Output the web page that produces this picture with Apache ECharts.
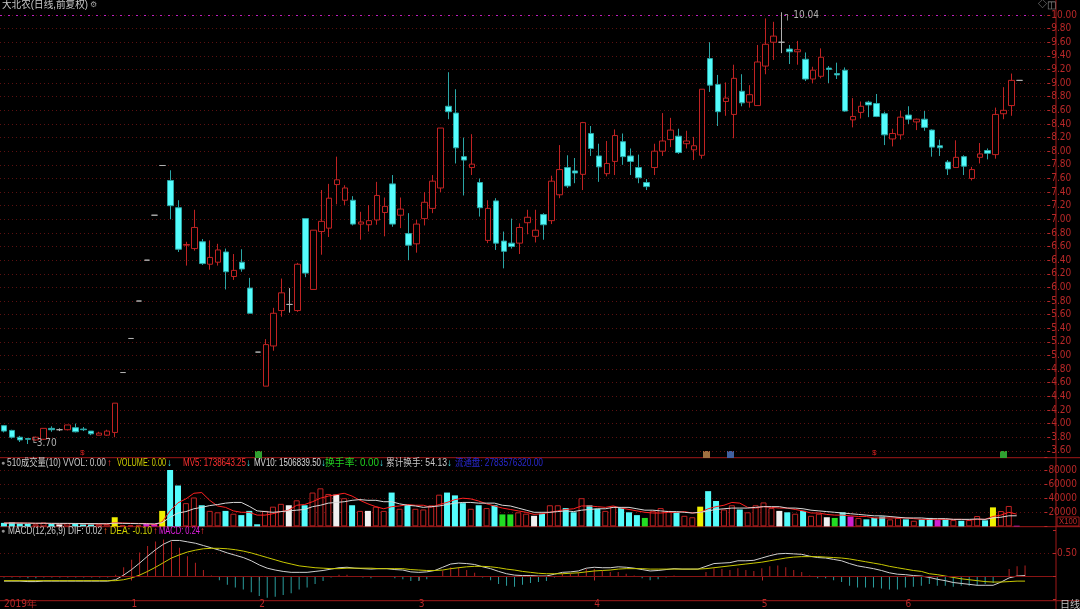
<!DOCTYPE html>
<html><head><meta charset="utf-8">
<script src="https://cdn.jsdelivr.net/npm/echarts/dist/echarts.min.js"></script>
<style>html,body{margin:0;padding:0;background:#000;}#c{width:1080px;height:609px;}</style>
</head><body><div id="c"></div>
<script>
const opens  = [3.97,3.90,3.80,3.78,3.76,3.77,3.93,3.91,3.91,3.94,3.92,3.89,3.83,3.83,3.87,4.75,5.25,5.80,6.40,7.06,7.79,7.57,7.17,6.62,6.57,6.67,6.34,6.37,6.52,6.16,6.37,5.99,5.05,4.55,5.14,5.66,5.75,5.66,7.01,5.97,6.82,6.87,7.51,7.28,7.28,6.93,6.92,6.99,7.10,7.52,7.06,6.79,6.64,7.01,7.16,7.46,8.66,8.56,7.92,7.76,7.54,6.69,7.27,6.68,6.65,6.65,6.95,6.75,7.07,6.98,7.36,7.76,7.71,7.66,8.26,7.93,7.67,7.85,8.14,7.93,7.76,7.54,7.76,8.00,8.17,8.22,8.11,8.02,7.94,9.36,8.98,8.73,8.54,8.88,8.72,8.67,9.25,9.60,9.60,9.50,9.46,9.35,9.06,9.10,9.22,9.14,9.19,8.46,8.57,8.72,8.70,8.55,8.18,8.24,8.53,8.43,8.47,8.31,8.08,7.84,7.76,7.92,7.60,7.91,8.01,7.95,8.55,8.67,9.04];
const closes = [3.89,3.80,3.76,3.77,3.80,3.93,3.91,3.91,3.98,3.88,3.91,3.85,3.86,3.89,4.30,4.75,5.25,5.80,6.40,7.06,7.79,7.20,6.56,6.63,6.88,6.35,6.44,6.55,6.23,6.25,6.27,5.62,5.05,5.16,5.62,5.92,5.75,6.34,6.21,6.84,6.97,7.31,7.58,7.46,6.93,6.96,6.98,7.35,7.19,6.93,7.15,6.62,6.93,7.25,7.56,8.34,8.58,8.05,7.87,7.81,7.17,7.16,6.65,6.53,6.60,6.88,7.03,6.84,6.92,7.56,7.73,7.49,7.68,8.42,8.04,7.77,7.82,8.23,7.92,7.85,7.61,7.48,8.00,8.15,8.31,7.98,8.15,8.08,8.91,8.97,8.58,8.78,9.07,8.71,8.83,9.31,9.57,9.69,9.60,9.46,9.49,9.06,9.19,9.38,9.20,9.12,8.59,8.51,8.66,8.68,8.51,8.24,8.26,8.50,8.47,8.47,8.35,8.06,8.05,7.74,7.91,7.78,7.73,7.96,7.97,8.54,8.60,9.04,9.04];
const lows   = [3.87,3.78,3.73,3.70,3.75,3.76,3.88,3.89,3.90,3.87,3.89,3.83,3.83,3.82,3.80,4.75,5.25,5.80,6.40,7.06,7.79,7.00,6.52,6.32,6.54,6.33,6.26,6.32,5.97,6.11,6.23,5.62,5.05,4.55,5.07,5.57,5.63,5.64,6.15,5.97,6.48,6.74,7.22,7.21,6.91,6.70,6.82,6.92,6.75,6.89,6.87,6.40,6.51,6.91,7.09,7.40,8.47,7.82,7.35,7.65,7.04,6.65,6.55,6.28,6.57,6.49,6.78,6.66,6.70,6.93,7.31,7.46,7.53,7.43,7.93,7.55,7.63,7.65,7.80,7.65,7.53,7.43,7.65,7.93,8.06,7.96,8.04,7.87,7.89,8.87,8.37,8.52,8.19,8.66,8.64,8.67,9.13,9.34,9.44,9.28,9.27,9.03,9.00,9.07,9.00,9.06,8.58,8.35,8.48,8.50,8.50,8.09,8.07,8.17,8.40,8.31,8.30,7.92,7.93,7.65,7.76,7.65,7.57,7.82,7.88,7.89,8.47,8.52,9.04];
const highs  = [3.98,3.91,3.82,3.79,3.81,3.93,3.96,3.93,3.98,4.00,3.95,3.89,3.88,3.91,4.30,4.75,5.25,5.80,6.40,7.06,7.79,7.72,7.28,6.67,7.14,6.71,6.69,6.64,6.57,6.49,6.56,6.14,5.05,5.24,5.70,6.13,5.99,6.36,7.01,6.84,7.43,7.52,7.92,7.50,7.34,7.11,7.21,7.55,7.32,7.65,7.32,7.09,6.99,7.40,7.65,8.34,9.16,8.91,8.20,8.25,7.60,7.28,7.31,6.82,7.01,6.94,7.14,7.14,7.09,7.64,8.09,7.94,7.90,8.43,8.37,8.11,8.15,8.32,8.26,8.04,7.95,7.59,8.11,8.56,8.49,8.33,8.30,8.21,8.91,9.60,9.12,9.01,9.27,9.13,8.97,9.56,9.95,9.90,10.04,9.56,9.62,9.45,9.24,9.51,9.25,9.30,9.23,8.78,8.73,8.74,8.84,8.58,8.33,8.59,8.66,8.48,8.59,8.32,8.17,7.87,8.16,7.94,7.77,8.12,8.04,8.64,8.94,9.14,9.04];
// volume in hands (x100 shares); flag per bar: u=up d=down Y=yellow W=white G=green M=magenta
const volumes = [5000,6000,4000,3500,3000,5500,3500,3000,4500,4000,3000,3000,3000,3500,13000,1500,1500,1500,3500,3500,22000,80000,58000,33000,41000,30000,22000,20000,22000,18000,16000,22000,3000,22000,28000,32000,30000,37000,30000,48000,54000,46000,45000,40000,30000,22000,22000,28000,22000,48000,25000,30000,25000,24000,30000,45000,48000,44000,33000,25000,30000,26000,30000,17000,17000,20000,18000,15000,18000,30000,30000,26000,20000,40000,30000,25000,22000,28000,26000,20000,16000,12000,22000,26000,22000,20000,15000,13000,28000,50000,36000,24000,30000,24000,20000,30000,34000,26000,22000,20000,18000,22000,15000,18000,13000,12000,20000,14000,12000,10000,12000,14000,10000,12000,10000,8000,10000,12000,9000,10000,9000,8000,9000,14750,8600,27000,21800,29000,1000];
const volFlags = 'dddduudWud' + 'dduuYuuuMM' + 'Ydduuduudu' + 'ddduuuWudu' + 'uuWuduWuud' + 'uduuuudddu' + 'dudGGuuWdu' + 'uddudduudd' + 'dGuuuduuYd' + 'duuduuuuWd' + 'uduuWGdMud' + 'dduududdMd' + 'uduudYuuM';
const mv5  = [4800,5000,4900,4700,4300,4400,4100,3700,3900,4100,3600,3500,3500,3500,5300,4800,4500,4200,4200,2300,6500,22000,33500,39000,47000,48000,37000,29000,27000,22000,20000,20000,16000,16000,18000,21000,23000,30000,31000,35000,40000,43000,45000,47000,43000,37000,32000,28000,25000,28000,29000,31000,30000,30000,27000,31000,34000,38000,40000,39000,36000,32000,29000,26000,24000,22000,20000,17000,18000,20000,22000,24000,25000,29000,29000,28000,27000,29000,26000,24000,22000,20000,19000,19000,20000,20000,21000,19000,20000,25000,28000,30000,34000,33000,27000,26000,28000,27000,26000,26000,24000,22000,19000,19000,17000,16000,16000,15000,14000,14000,12000,12000,12000,12000,12000,11000,10000,10000,10000,10000,10000,10000,9000,10000,10000,14000,16000,20000,17400];
const mv10 = [4600,4700,4700,4600,4500,4500,4400,4300,4300,4200,4100,4000,3900,3800,4600,4300,4100,3900,3800,3500,5300,13000,19000,21000,25000,27000,29500,31000,33000,34000,34000,28500,22000,21000,20000,21000,22000,23000,24000,28000,30000,33000,34000,35000,37000,38000,37000,37000,35000,35000,32000,30000,29000,27000,28000,29000,31000,33000,34000,34000,33000,33000,33000,30000,29000,26000,23000,20000,20000,20000,21000,22000,21000,23000,24000,25000,25000,27000,27000,27000,25000,23000,23000,22000,21000,21000,20000,19000,20000,22000,24000,25000,26000,26000,26000,27000,28000,28000,28000,26000,26000,25000,23000,22000,21000,20000,19000,18000,17000,16000,15000,15000,14000,13000,12000,12000,12000,11000,11000,11000,10000,10000,10000,10500,10000,12000,13000,15000,15068];
const dif  = [-0.10,-0.10,-0.10,-0.11,-0.11,-0.10,-0.10,-0.10,-0.10,-0.10,-0.10,-0.10,-0.10,-0.10,-0.07,0.03,0.15,0.29,0.44,0.58,0.70,0.78,0.78,0.75,0.72,0.67,0.62,0.57,0.51,0.46,0.41,0.34,0.25,0.18,0.14,0.11,0.09,0.09,0.09,0.11,0.13,0.16,0.19,0.20,0.18,0.17,0.16,0.17,0.17,0.15,0.14,0.10,0.09,0.10,0.13,0.20,0.27,0.29,0.28,0.26,0.21,0.17,0.11,0.06,0.03,0.02,0.02,0.01,0.01,0.05,0.09,0.10,0.12,0.18,0.20,0.19,0.19,0.21,0.20,0.18,0.15,0.12,0.13,0.15,0.17,0.16,0.16,0.16,0.22,0.28,0.29,0.30,0.34,0.34,0.35,0.40,0.45,0.49,0.50,0.49,0.48,0.44,0.41,0.40,0.37,0.34,0.28,0.23,0.20,0.17,0.13,0.08,0.05,0.04,0.02,0.01,-0.02,-0.06,-0.09,-0.13,-0.15,-0.17,-0.19,-0.19,-0.19,-0.12,-0.03,0.01,0.02];
const dea  = [-0.09,-0.09,-0.09,-0.09,-0.09,-0.09,-0.09,-0.09,-0.09,-0.09,-0.09,-0.09,-0.09,-0.09,-0.09,-0.07,-0.03,0.03,0.11,0.20,0.30,0.40,0.47,0.53,0.57,0.60,0.61,0.61,0.60,0.58,0.55,0.51,0.46,0.41,0.36,0.31,0.27,0.23,0.21,0.19,0.18,0.17,0.17,0.18,0.18,0.18,0.18,0.17,0.17,0.17,0.17,0.15,0.14,0.13,0.13,0.14,0.17,0.19,0.21,0.22,0.22,0.21,0.19,0.16,0.14,0.11,0.09,0.07,0.06,0.06,0.06,0.07,0.08,0.10,0.12,0.13,0.14,0.16,0.17,0.17,0.17,0.16,0.16,0.16,0.16,0.16,0.16,0.16,0.17,0.19,0.21,0.23,0.25,0.27,0.29,0.31,0.34,0.37,0.40,0.42,0.43,0.43,0.43,0.42,0.41,0.40,0.38,0.35,0.32,0.29,0.26,0.22,0.19,0.16,0.13,0.11,0.06,0.04,0.01,-0.02,-0.05,-0.07,-0.09,-0.11,-0.12,-0.12,-0.11,-0.10,-0.10];
const macdHist = [-0.02,-0.02,-0.02,-0.04,-0.04,-0.02,-0.02,-0.02,-0.02,-0.02,-0.02,-0.02,-0.02,-0.02,0.04,0.20,0.36,0.52,0.66,0.76,0.80,0.76,0.62,0.44,0.30,0.14,0.02,-0.08,-0.18,-0.24,-0.28,-0.34,-0.42,-0.46,-0.44,-0.40,-0.36,-0.28,-0.24,-0.16,-0.10,-0.02,0.04,0.04,0.00,-0.02,-0.04,0.00,0.00,-0.04,-0.06,-0.10,-0.10,-0.06,0.00,0.12,0.20,0.20,0.14,0.08,-0.02,-0.08,-0.16,-0.20,-0.22,-0.18,-0.14,-0.12,-0.10,-0.02,0.06,0.06,0.08,0.16,0.16,0.12,0.10,0.10,0.06,0.02,-0.04,-0.08,-0.06,-0.02,0.02,0.00,0.00,0.00,0.10,0.18,0.16,0.14,0.18,0.14,0.12,0.18,0.22,0.24,0.20,0.14,0.10,0.02,-0.04,-0.04,-0.08,-0.12,-0.20,-0.24,-0.24,-0.24,-0.26,-0.28,-0.28,-0.24,-0.22,-0.20,-0.16,-0.20,-0.20,-0.22,-0.20,-0.20,-0.20,-0.16,-0.14,0.00,0.16,0.22,0.24];
const monthTickIndex  = [0,16,32,52,74,95,113];
const monthTickLabels = ['2019年','1','2','3','4','5','6'];
const highMarkIndex = 98, lowMarkIndex = 3;

const N = opens.length;
const PAD = 3;
const categories = Array.from({length: N + PAD}, (_, i) => String(i));
const candleData = opens.map((o, i) => [o, closes[i], lows[i], highs[i]]);

const RED = '#c02222', CYAN = '#54fcfc', TEAL = '#2aa6a6', GRID = '#5c1010', AX = '#b82828';
const NUMFONT = "'Liberation Sans Narrow','DejaVu Sans Condensed','Liberation Sans',sans-serif";
const flagColor = {Y: '#f0f000', W: '#f0f0f0', G: '#22dd22', M: '#d020d0'};
const volData = volumes.map((v, i) => {
  const f = volFlags[i];
  if (f === 'u') return {value: v, itemStyle: {color: '#000', borderColor: RED, borderWidth: 1}};
  if (f === 'd') return {value: v, itemStyle: {color: CYAN}};
  return {value: v, itemStyle: {color: flagColor[f]}};
});
const macdData = macdHist.map(v => ({value: v, itemStyle: {color: v >= 0 ? '#b02020' : '#2a9c9c'}}));

const xBase = (gi) => ({
  type: 'category', gridIndex: gi, data: categories, boundaryGap: true,
  axisLine: {show: false}, axisTick: {show: false}, axisLabel: {show: false}, splitLine: {show: false}
});

const FONT = "'Liberation Sans','Noto Sans CJK SC',sans-serif";
const mctx = document.createElement('canvas').getContext('2d');
const txt = (x, y, s, color, size) => ({type: 'text', x, y, silent: true,
  style: {text: s, fill: color, font: (size || 10) + 'px ' + FONT, verticalAlign: 'middle'}});
const fit = (x, y, s, color, w, size) => {
  const f = (size || 10) + 'px ' + FONT;
  mctx.font = f;
  const mw = mctx.measureText(s).width;
  return {type: 'text', x, y, scaleX: w / mw, silent: true,
    style: {text: s, fill: color, font: f, verticalAlign: 'middle'}};
};
const hline = (y) => ({type: 'line', silent: true, shape: {x1: 0, y1: y, x2: 1080, y2: y}, style: {stroke: '#a01818', lineWidth: 1}});

const chart = echarts.init(document.getElementById('c'), null, {renderer: 'canvas'});
chart.setOption({
  backgroundColor: '#000',
  animation: false,
  grid: [
    {left: -0.7, right: 24, top: 1.38, height: 449.46},
    {left: -0.7, right: 24, top: 457.7, height: 68.7},
    {left: -0.7, right: 24, top: 530.3, height: 72}
  ],
  xAxis: [
    xBase(0), xBase(1),
    Object.assign(xBase(2), {
      position: 'bottom', offset: -1.6,
      axisTick: {show: true, length: 4, lineStyle: {color: AX}, alignWithLabel: true,
        interval: (i) => monthTickIndex.indexOf(i) > 0},
      axisLabel: {show: true, color: AX, fontSize: 10, fontFamily: NUMFONT, align: 'left', margin: 1,
        interval: (i) => monthTickIndex.indexOf(i) >= 0,
        formatter: (v, i) => { const k = monthTickIndex.indexOf(i); return k >= 0 ? monthTickLabels[k] : ''; }}
    })
  ],
  yAxis: [
    {type: 'value', gridIndex: 0, position: 'right', min: 3.6, max: 10.2, interval: 0.2,
      axisLine: {show: false},
      axisTick: {show: true, length: 3, lineStyle: {color: AX}},
      axisLabel: {color: AX, fontSize: 10, fontFamily: NUMFONT, margin: 4, showMaxLabel: false,
        formatter: v => v > 10.1 ? '' : v.toFixed(2)},
      splitLine: {show: true, showMaxLine: false, lineStyle: {color: GRID, type: [1, 3]}}},
    {type: 'value', gridIndex: 1, position: 'right', min: 0, max: 97450, interval: 20000,
      axisLine: {show: false},
      axisTick: {show: true, length: 3, lineStyle: {color: AX}},
      axisLabel: {color: AX, fontSize: 10, fontFamily: NUMFONT, margin: 4,
        formatter: v => (v > 0 && v <= 80000) ? String(v) : ''},
      splitLine: {show: true, showMinLine: false, showMaxLine: false, lineStyle: {color: GRID, type: [1, 3]}}},
    {type: 'value', gridIndex: 2, position: 'right', min: -0.5, max: 1.0, interval: 0.5,
      axisLine: {show: false},
      axisTick: {show: true, length: 3, lineStyle: {color: AX}},
      axisLabel: {color: AX, fontSize: 10, fontFamily: NUMFONT, margin: 4,
        formatter: v => Math.abs(v - 0.5) < 1e-6 ? '0.50' : ''},
      splitLine: {show: true, showMinLine: false, showMaxLine: false, lineStyle: {color: GRID, type: [1, 3]}}}
  ],
  series: [
    {type: 'candlestick', xAxisIndex: 0, yAxisIndex: 0, data: candleData, barWidth: 6,
      itemStyle: {color: '#000', color0: CYAN, borderColor: RED, borderColor0: TEAL, borderColorDoji: '#b0b0b0', borderWidth: 1},
      markPoint: {symbol: 'circle', symbolSize: 1, silent: true, itemStyle: {color: 'rgba(0,0,0,0)'}, data: [
        {coord: [highMarkIndex, highs[highMarkIndex]], value: highs[highMarkIndex],
          label: {show: true, formatter: '┐ ' + highs[highMarkIndex].toFixed(2), position: 'right', offset: [-2, 3], color: '#b0b0b0', fontSize: 10, fontFamily: NUMFONT}},
        {coord: [lowMarkIndex, lows[lowMarkIndex]], value: lows[lowMarkIndex],
          label: {show: true, formatter: '└' + lows[lowMarkIndex].toFixed(2), position: 'right', offset: [-2, -1], color: '#b0b0b0', fontSize: 10, fontFamily: NUMFONT}}
      ]},
      markLine: {symbol: 'none', silent: true, label: {show: false},
        lineStyle: {color: '#c020c0', type: [2, 6], width: 1}, data: [{yAxis: 10.0}]}
    },
    {type: 'bar', xAxisIndex: 1, yAxisIndex: 1, data: volData, barWidth: 6},
    {type: 'line', xAxisIndex: 1, yAxisIndex: 1, data: mv5, symbol: 'none', lineStyle: {color: '#ff2020', width: 1}},
    {type: 'line', xAxisIndex: 1, yAxisIndex: 1, data: mv10, symbol: 'none', lineStyle: {color: '#d8d8d8', width: 1}},
    {type: 'bar', xAxisIndex: 2, yAxisIndex: 2, data: macdData, barWidth: 1,
      markLine: {symbol: 'none', silent: true, label: {show: false}, lineStyle: {color: '#8a1414', type: 'solid', width: 1}, data: [{yAxis: 0}]}},
    {type: 'line', xAxisIndex: 2, yAxisIndex: 2, data: dif, symbol: 'none', lineStyle: {color: '#d0d0d0', width: 1}},
    {type: 'line', xAxisIndex: 2, yAxisIndex: 2, data: dea, symbol: 'none', lineStyle: {color: '#c8c800', width: 1}}
  ],
  graphic: [
    hline(457.7), hline(526.7), hline(600.7),
    {type: 'line', silent: true, shape: {x1: 1056, y1: 0, x2: 1056, y2: 609}, style: {stroke: '#a01818', lineWidth: 1}},
    fit(2, 5, '大北农(日线,前复权)', '#c8c8c8', 86, 10),
    txt(90, 5, '⚙', '#a0a0a0', 8),
    txt(1038, 5, '◇', '#909090', 9), txt(1047, 5, '◫', '#909090', 10),
    // volume header
    txt(1, 463, '●', '#909090', 7),
    fit(7, 463, '510成交量(10) VVOL: 0.00', '#c8c8c8', 99), txt(107, 463, '↑', '#ff3030', 10),
    fit(117, 463, 'VOLUME: 0.00', '#d0d000', 49), txt(167, 463, '↓', '#40e0e0', 10),
    fit(183, 463, 'MV5: 1738643.25', '#ff3030', 63), txt(246, 463, '↓', '#40e0e0', 10),
    fit(254, 463, 'MV10: 1506839.50', '#d8d8d8', 67), txt(321, 463, '↓', '#40e0e0', 10),
    fit(325, 463, '换手率: 0.00', '#20d020', 54), txt(379, 463, '↓', '#40e0e0', 10),
    fit(386, 463, '累计换手: 54.13', '#c8c8c8', 61), txt(447, 463, '↓', '#40e0e0', 10),
    fit(455, 463, '流通盘: 2783576320.00', '#2828d0', 88),
    // macd header
    txt(1, 531, '●', '#909090', 7),
    fit(8, 531, 'MACD(12,26,9) DIF: 0.02', '#c8c8c8', 94), txt(103, 531, '↑', '#ff6020', 10),
    fit(110, 531, 'DEA: -0.10', '#d0d000', 42), txt(153, 531, '↑', '#ff3030', 10),
    fit(159, 531, 'MACD: 0.24', '#e020e0', 41), txt(200, 531, '↑', '#ff3030', 10),
    // x100 box and period label
    {type: 'rect', silent: true, shape: {x: 1057, y: 517, width: 22, height: 9}, style: {fill: 'none', stroke: '#a01818', lineWidth: 1}},
    fit(1059, 521.5, 'X100', AX, 18, 9),
    txt(1060, 605, '日线', '#c0c0c0', 10),
    // event markers
    txt(80, 453, '$', '#e02020', 8),
    {type: 'rect', silent: true, shape: {x: 255, y: 451, width: 7, height: 7}, style: {fill: '#30a030'}},
    {type: 'rect', silent: true, shape: {x: 703, y: 451, width: 7, height: 7}, style: {fill: '#a07040'}},
    {type: 'rect', silent: true, shape: {x: 727, y: 451, width: 7, height: 7}, style: {fill: '#4060a0'}},
    txt(872, 453, '$', '#e02020', 8),
    {type: 'rect', silent: true, shape: {x: 1000, y: 451, width: 7, height: 7}, style: {fill: '#30a030'}}
  ]
});
</script></body></html>
